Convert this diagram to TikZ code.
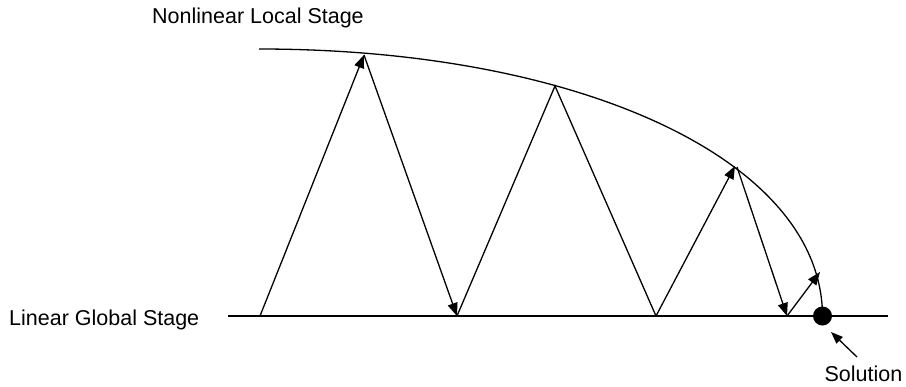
\documentclass[tikz,border=0pt]{standalone}
\usepackage{fontspec}
\setmainfont{Liberation Sans}
\usetikzlibrary{arrows.meta}
\begin{document}
\begin{tikzpicture}[x=1pt,y=-1pt,
  line/.style={line width=1.3pt,line cap=butt},
  arr/.style={line, -{Triangle[length=13pt,width=10pt]}},
  lbl/.style={inner sep=0pt,font=\fontsize{21.5}{26}\selectfont}]
\useasboundingbox (0,0) rectangle (906,386);
% coordinates
\coordinate (hl) at (228,316);
\coordinate (hr) at (888,316);
\coordinate (cs) at (259,49);
\coordinate (ce) at (822.5,316);
\coordinate (a0) at (260,316);
\coordinate (t1) at (364,55);
\coordinate (b1) at (457,316);
\coordinate (t2) at (555,86);
\coordinate (b2) at (656,316);
\coordinate (t3) at (735,166);
\coordinate (t3b) at (737,167);
\coordinate (b3) at (787,316);
\coordinate (t4) at (820,272);
\coordinate (sa) at (857,357);
\coordinate (sb) at (831,332);
% stages
\draw[line] (hl) -- (hr);
\draw[line] (cs) .. controls (580,49) and (822,160) .. (ce);
% zigzag
\draw[arr] (a0) -- (t1);
\draw[arr] (t1) -- (b1);
\draw[line] (b1) -- (t2) -- (b2);
\draw[arr] (b2) -- (t3);
\draw[arr] (t3b) -- (b3);
\draw[arr] (b3) -- (t4);
% solution
\fill (ce) circle (9.5);
\draw[line,-{Triangle[length=12pt,width=9pt]}] (sa) -- (sb);
% labels
\node[lbl,anchor=base west] (nl) at (152,23) {Nonlinear Local Stage};
\node[lbl,anchor=base west] (lg) at (9,325) {Linear Global Stage};
\node[lbl,anchor=base] (so) at (863.5,381.5) {Solution};
\end{tikzpicture}
\end{document}
